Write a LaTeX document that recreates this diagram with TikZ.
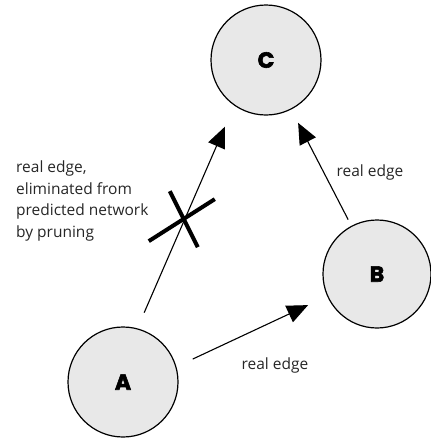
\documentclass[tikz,border=0pt]{standalone}
\usepackage{fontspec}
\setmainfont{Open Sans}
\newfontfamily\letterfont{Poppins}[FakeBold=2.5]
\usetikzlibrary{arrows.meta}

\tikzset{
 gene/.style = {circle, draw, line width=1.2pt, fill=black!9, minimum size=110pt,
  inner sep=0pt, font=\letterfont\bfseries\fontsize{22}{26}\selectfont},
 edge/.style = {line width=1.1pt, -{Triangle[length=21pt,width=18pt]}},
 cut/.style = {line width=4pt},
 note/.style = {font=\fontsize{15.5}{21.5}\selectfont, text=black!85, inner sep=0pt}
}

\begin{document}
\begin{tikzpicture}[x=1pt,y=-1pt]
 \useasboundingbox (0,0) rectangle (431,440);
 \node[gene] (C) at (266,60) {C};
 \node[gene, minimum size=108pt] (B) at (377,274) {B};
 \node[gene] (A) at (123,382) {A};

 % edges
 \draw[edge, shorten <=17pt, shorten >=23pt] (A.75) -- coordinate[pos=0.49] (pruned) (C.235);
 \draw[edge, shorten <=7pt, shorten >=15pt] (B.118) -- (C.297);
 \draw[edge, shorten <=18pt, shorten >=21pt] (A.16) -- (B.204);

 % the cross
 \draw[cut] ([shift={(-36,22)}]pruned) -- ([shift={(30,-20)}]pruned);
 \draw[cut] ([shift={(-15,-28)}]pruned) -- ([shift={(13,28)}]pruned);

 \node[note] (bc) at (370,172) {real edge};
 \node[note] (ab) at (275,365) {real edge};
 \node[note, align=left, anchor=west] (prune) at (16,201) {real edge,\\eliminated from\\predicted network\\by pruning};
\end{tikzpicture}
\end{document}
